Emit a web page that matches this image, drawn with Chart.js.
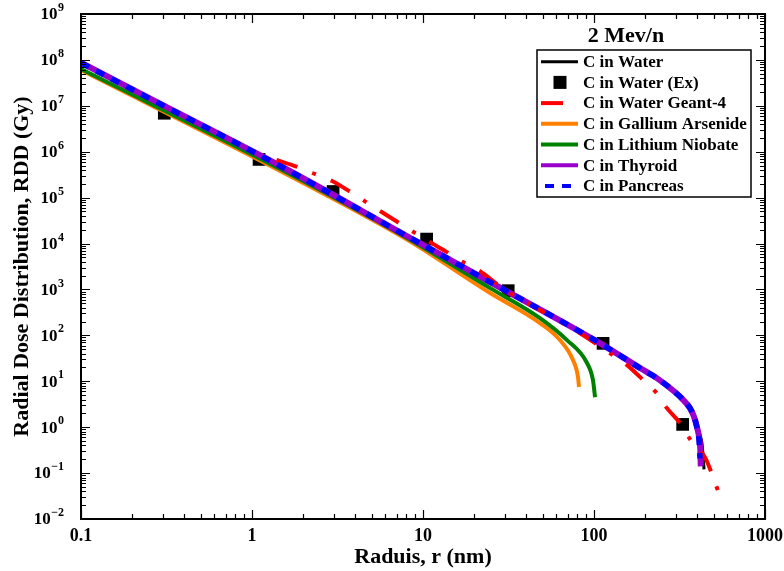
<!DOCTYPE html>
<html>
<head>
<meta charset="utf-8">
<title>Radial Dose Distribution - 2 Mev/n</title>
<script src="https://cdn.jsdelivr.net/npm/chart.js@4.4.0/dist/chart.umd.min.js"></script>
<style>
    html, body { margin: 0; padding: 0; background: #fff; }
    #wrap { width: 784px; height: 571px; }
</style>
</head>
<body>
<div id="wrap"><canvas id="rddChart" width="784" height="571"></canvas></div>
<script>
// Radius (nm) and dose (Gy) for each curve
const waterR = [0.1, 0.254, 1.46, 8.05, 24.7, 108, 186, 233, 290, 327, 364, 384, 405, 417, 428, 434, 440];
const waterDose = [8.5e7, 1.41e7, 4.9e5, 1.46e4, 1450, 68, 19.4, 11.7, 6.4, 4.3, 2.7, 1.75, 1.0, 0.67, 0.45, 0.25, 0.12];

const exR = [0.307, 1.1, 2.98, 10.5, 31.5, 113, 330];
const exDose = [6.9e6, 6.8e5, 1.36e5, 1.25e4, 940, 67, 1.15];

const geantR = [1.39, 1.86, 2.27, 2.94, 3.85, 4.65, 5.61, 7.14, 10.5, 13.8, 17.1, 21, 30, 50, 80, 129, 156, 194, 233, 267, 318, 364, 446, 490, 531];
const geantDose = [6.6e5, 4.6e5, 3.4e5, 2.3e5, 1.26e5, 8.0e4, 5.1e4, 2.9e4, 1.19e4, 6.5e3, 3.95e3, 2.65e3, 1000, 330, 120, 37, 22.5, 10.6, 5.5, 2.6, 1.23, 0.55, 0.22, 0.095, 0.041];

const gaasR = [0.1, 1.46, 8.05, 24.7, 48.3, 63.2, 75.3, 80.6, 81.7];
const gaasDose = [6.0e7, 3.8e5, 1.22e4, 835, 185, 79, 29, 12.4, 7.5];

const linbR = [0.1, 1.46, 8.05, 24.7, 48.3, 69.5, 91, 98.6, 101.4];
const linbDose = [6.3e7, 4.2e5, 1.32e4, 1070, 238, 79, 25, 10.6, 4.5];

const thyroidR = [0.1, 0.254, 1.46, 8.05, 24.7, 108, 186, 233, 290, 327, 364, 384, 400, 412, 418, 421];
const thyroidDose = [8.7e7, 1.43e7, 4.95e5, 1.46e4, 1450, 68, 19.4, 11.7, 6.3, 4.2, 2.6, 1.7, 1.0, 0.6, 0.35, 0.14];

const pancreasR = [0.1, 0.254, 1.46, 8.05, 24.7, 108, 186, 233, 290, 327, 364, 384, 400, 410, 417];
const pancreasDose = [8.6e7, 1.42e7, 4.9e5, 1.46e4, 1450, 68, 19.4, 11.7, 6.3, 4.2, 2.6, 1.7, 1.0, 0.6, 0.21];

const xTickLabels = ['0.1', '1', '10', '100', '1000'];
const yExponents = ['-2', '-1', '0', '1', '2', '3', '4', '5', '6', '7', '8', '9'];

const SERIF = '"Liberation Serif", "Times New Roman", serif';

function pts(xs, ys) {
    return xs.map((x, i) => ({ x: x, y: ys[i] }));
}

function lineSet(label, xs, ys, color, width, order, dash) {
    return {
        label: label,
        data: pts(xs, ys),
        borderColor: color,
        backgroundColor: color,
        borderWidth: width,
        borderDash: dash || [],
        borderCapStyle: 'butt',
        pointRadius: 0,
        cubicInterpolationMode: 'monotone',
        fill: false,
        order: order
    };
}

// Frame, inward ticks, tick labels, axis titles and the boxed legend
const framePlugin = {
    id: 'framePlugin',
    afterDraw(chart) {
        const ctx = chart.ctx;
        const a = chart.chartArea;
        const xs = chart.scales.x;
        const ys = chart.scales.y;

        ctx.save();
        ctx.strokeStyle = '#000';

        // ticks on all four sides
        ctx.lineWidth = 1.2;
        ctx.beginPath();
        for (let k = -1; k <= 3; k++) {
            for (let m = 1; m <= 9; m++) {
                const v = m * Math.pow(10, k);
                if (v > 1000.001) break;
                const px = Math.round(xs.getPixelForValue(v)) + 0.5;
                const len = m === 1 ? 9 : 5;
                ctx.moveTo(px, a.bottom); ctx.lineTo(px, a.bottom - len);
                ctx.moveTo(px, a.top); ctx.lineTo(px, a.top + len);
            }
        }
        for (let k = -2; k <= 9; k++) {
            for (let m = 1; m <= 9; m++) {
                const v = m * Math.pow(10, k);
                if (v > 1.0001e9) break;
                const py = Math.round(ys.getPixelForValue(v)) + 0.5;
                const len = m === 1 ? 9 : 5;
                ctx.moveTo(a.left, py); ctx.lineTo(a.left + len, py);
                ctx.moveTo(a.right, py); ctx.lineTo(a.right - len, py);
            }
        }
        ctx.stroke();

        // plot frame
        ctx.lineWidth = 2;
        ctx.strokeRect(a.left, a.top, a.right - a.left, a.bottom - a.top);

        // x tick labels
        ctx.fillStyle = '#000';
        ctx.font = 'bold 18px ' + SERIF;
        ctx.textAlign = 'center';
        ctx.textBaseline = 'middle';
        xTickLabels.forEach(t => {
            ctx.fillText(t, xs.getPixelForValue(parseFloat(t)), a.bottom + 17);
        });

        // y tick labels as 10 with a raised exponent
        yExponents.forEach(e => {
            const py = ys.getPixelForValue(Math.pow(10, parseInt(e, 10)));
            ctx.font = 'bold 12px ' + SERIF;
            ctx.textAlign = 'left';
            ctx.textBaseline = 'middle';
            const supTxt = e.replace('-', '\u2212');
            const supW = ctx.measureText(supTxt).width;
            const supX = 64 - supW;
            ctx.fillText(supTxt, supX, py - 6);
            ctx.font = 'bold 17px ' + SERIF;
            ctx.textAlign = 'right';
            ctx.fillText('10', supX - 0.5, py + 1);
        });

        // axis titles
        ctx.font = 'bold 22px ' + SERIF;
        ctx.textAlign = 'center';
        ctx.textBaseline = 'middle';
        ctx.fillText('Raduis, r (nm)', (a.left + a.right) / 2, a.bottom + 38);
        ctx.save();
        ctx.translate(22, (a.top + a.bottom) / 2);
        ctx.rotate(-Math.PI / 2);
        ctx.fillText('Radial Dose Distribution, RDD (Gy)', 0, 0);
        ctx.restore();

        // legend
        const box = { left: 537, top: 50, right: 751, bottom: 197 };
        ctx.fillText('2 Mev/n', 626, 36);
        ctx.fillStyle = '#fff';
        ctx.fillRect(box.left, box.top, box.right - box.left, box.bottom - box.top);
        ctx.lineWidth = 1.5;
        ctx.strokeStyle = '#000';
        ctx.strokeRect(box.left, box.top, box.right - box.left, box.bottom - box.top);

        ctx.font = 'bold 17px ' + SERIF;
        ctx.textAlign = 'left';
        chart.data.datasets.forEach((ds, i) => {
            const y = 61.7 + i * 20.7;
            if (ds.showLine === false) {
                ctx.fillStyle = ds.backgroundColor;
                ctx.fillRect(553.5, y - 6.5, 13, 13);
            } else {
                ctx.save();
                ctx.strokeStyle = ds.borderColor;
                ctx.lineWidth = Math.min(ds.borderWidth, 4);
                ctx.setLineDash(ds.borderDash);
                ctx.lineDashOffset = ds.legendDashOffset || 0;
                ctx.beginPath();
                ctx.moveTo(541, y);
                ctx.lineTo(ds.legendEnd || 578, y);
                ctx.stroke();
                ctx.restore();
            }
            ctx.fillStyle = '#000';
            ctx.fillText(ds.label, 583, y + 1);
        });
        ctx.restore();
    }
};

const waterSet = lineSet('C in Water', waterR, waterDose, '#000000', 3, 4);
const geantSet = lineSet('C in Water Geant-4', geantR, geantDose, '#ff0000', 4, 2, [22, 16, 4, 16]);
geantSet.legendEnd = 565;
const pancreasSet = lineSet('C in Pancreas', pancreasR, pancreasDose, '#0000ff', 5.5, 1, [9, 8]);
pancreasSet.legendDashOffset = -4;

const rddChart = new Chart(document.getElementById('rddChart'), {
    type: 'line',
    data: {
        datasets: [
            waterSet,
            {
                label: 'C in Water (Ex)',
                data: pts(exR, exDose),
                showLine: false,
                pointStyle: 'rect',
                pointRadius: 9,
                pointBorderWidth: 0,
                borderColor: '#000000',
                backgroundColor: '#000000',
                pointBackgroundColor: '#000000',
                order: 7
            },
            geantSet,
            lineSet('C in Gallium Arsenide', gaasR, gaasDose, '#ff8000', 4, 6),
            lineSet('C in Lithium Niobate', linbR, linbDose, '#008000', 4, 5),
            lineSet('C in Thyroid', thyroidR, thyroidDose, '#9900cc', 6, 3),
            pancreasSet
        ]
    },
    options: {
        responsive: false,
        animation: false,
        layout: { padding: { left: 81, top: 14, right: 19, bottom: 52 } },
        plugins: {
            legend: { display: false },
            tooltip: { enabled: false }
        },
        scales: {
            x: { type: 'logarithmic', min: 0.1, max: 1000, display: false },
            y: { type: 'logarithmic', min: 0.01, max: 1e9, display: false }
        }
    },
    plugins: [framePlugin]
});
</script>
</body>
</html>
